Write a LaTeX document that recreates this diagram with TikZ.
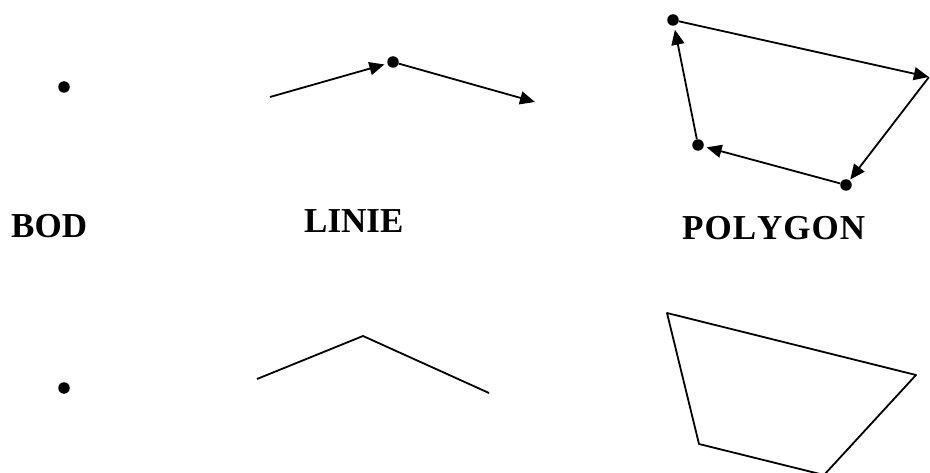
\documentclass[tikz,border=0pt]{standalone}
\usepackage{fontspec}
\setmainfont{Liberation Serif}
\usetikzlibrary{arrows.meta}
\begin{document}
\begin{tikzpicture}[x=1pt,y=-1pt,
  edge/.style={line width=1.8pt, line join=round},
  arr/.style={edge, -{Triangle[length=15pt,width=13pt]}},
  dot/.style={circle, fill=black, inner sep=0pt, minimum size=11.5pt},
  vtx/.style={inner sep=0pt, minimum size=0pt},
  title/.style={font=\bfseries\fontsize{35}{35}\selectfont, inner sep=0pt, anchor=base}]
\useasboundingbox[fill=white] (0,0) rectangle (930,473);

% ---- point ----
\node[dot] (p1) at (64,87) {};
\node[dot] (p2) at (64,388) {};

% ---- line, directed ----
\coordinate (l1) at (270,97);
\node[dot] (l2) at (393,62) {};
\coordinate (l3) at (535,102);
\draw[arr, shorten >=3pt] (l1) -- (l2);
\draw[arr] (l2) -- (l3);

% ---- polygon, directed ----
\node[dot] (a) at (673,20) {};
\node[vtx] (b) at (929,77) {};
\node[dot] (c) at (846,185) {};
\node[dot] (d) at (698,145) {};
\draw[arr] (a) -- (b);
\draw[arr, shorten >=1pt] (b) -- (c);
\draw[arr, shorten >=3pt] (c) -- (d);
\draw[arr, shorten >=4pt] (d) -- (a);

% ---- labels ----
\node[title, anchor=base west] (tb) at (11,238) {BOD};
\node[title, anchor=base west] (tl) at (304,233) {LINIE};
\node[title, anchor=base west] (tp) at (682,240) {P\kern1ptO\kern1ptL\kern1ptY\kern1ptG\kern1ptO\kern1ptN};

% ---- line, plain ----
\coordinate (m1) at (257,379);
\coordinate (m2) at (363,336);
\coordinate (m3) at (489,393);
\draw[edge] (m1) -- (m2) -- (m3);

% ---- polygon, plain ----
\coordinate (q1) at (667,313);
\coordinate (q2) at (916,375);
\coordinate (q3) at (824,475);
\coordinate (q4) at (699,444);
\draw[edge] (q1) -- (q2) -- (q3) -- (q4) -- cycle;
\end{tikzpicture}
\end{document}
